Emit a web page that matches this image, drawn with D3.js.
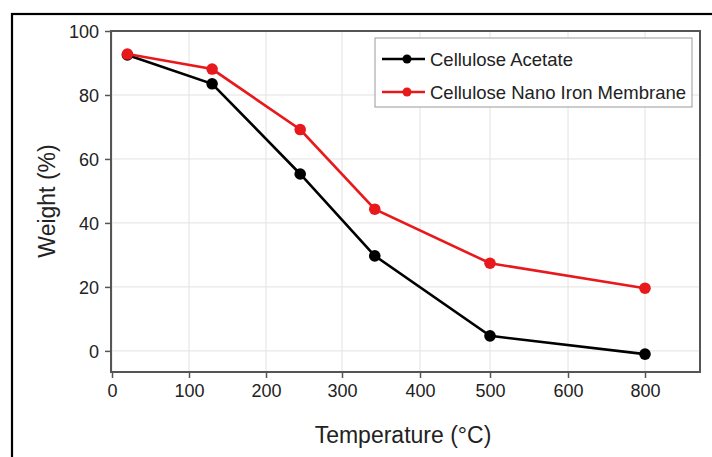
<!DOCTYPE html>
<html>
<head>
<meta charset="utf-8">
<script src="https://cdn.jsdelivr.net/npm/d3@7"></script>
<style>
  body { margin: 0; background: #fff; }
  text { font-family: "Liberation Sans", Arial, sans-serif; fill: #222; }
</style>
</head>
<body>
<svg id="chart"></svg>
<script>
var width = 712, height = 457;

// data
var temps = [20, 130, 245, 342, 500, 800];
var acetate = [92.5, 83.5, 55.3, 29.7, 4.7, -1.0];
var nanoIron = [92.8, 88.1, 69.2, 44.3, 27.4, 19.6];
var seriesNames = ["Cellulose Acetate", "Cellulose Nano Iron Membrane"];
var seriesColors = ["#000000", "#e8191c"];
var xTicks = [0, 100, 200, 300, 400, 500, 600, 800];
var yTicks = [0, 20, 40, 60, 80, 100];

var margin = {top: 31, right: 12, bottom: 85, left: 111};
// the original axis is not evenly spaced (800 sits where 700 would be)
var xTickPx = [1, 78, 155, 231, 309, 379, 457, 534];

var svg = d3.select("#chart").attr("width", width).attr("height", height);

// outer picture frame
svg.append("rect")
    .attr("x", 12).attr("y", 14)
    .attr("width", 720).attr("height", 470)
    .attr("fill", "none")
    .attr("stroke", "#000")
    .attr("stroke-width", 2.2);

var w = width - margin.left - margin.right;
var h = height - margin.top - margin.bottom;

var g = svg.append("g")
    .attr("transform", "translate(" + margin.left + "," + margin.top + ")");

var x = d3.scaleLinear().domain(xTicks).range(xTickPx);
var y = d3.scaleLinear().domain([-6.6, 100]).range([h, 0]);

// grid
g.append("g").selectAll("line").data(xTicks).enter().append("line")
    .attr("x1", d => x(d)).attr("x2", d => x(d))
    .attr("y1", 0).attr("y2", h)
    .attr("stroke", "#e2e2e2").attr("stroke-width", 1);
g.append("g").selectAll("line").data(yTicks).enter().append("line")
    .attr("x1", 0).attr("x2", w)
    .attr("y1", d => y(d)).attr("y2", d => y(d))
    .attr("stroke", "#e2e2e2").attr("stroke-width", 1);

// axes
var xAxis = g.append("g")
    .attr("transform", "translate(0," + h + ")")
    .call(d3.axisBottom(x).tickValues(xTicks).tickSize(6).tickPadding(6).tickFormat(d3.format("d")));
var yAxis = g.append("g")
    .call(d3.axisLeft(y).tickValues(yTicks).tickSize(6).tickPadding(6).tickFormat(d3.format("d")));

[xAxis, yAxis].forEach(function (a) {
    a.select(".domain").remove();
    a.selectAll(".tick line").attr("stroke", "#555").attr("stroke-width", 1.5);
    a.selectAll(".tick text")
        .style("font-family", "'Liberation Sans', Arial, sans-serif")
        .style("font-size", "18px")
        .attr("fill", "#222");
});
yAxis.selectAll(".tick text").attr("dy", "0.36em");

// plot frame
g.append("rect")
    .attr("x", 0).attr("y", 0)
    .attr("width", w).attr("height", h)
    .attr("fill", "none")
    .attr("stroke", "#555")
    .attr("stroke-width", 2);

// series
var series = [acetate, nanoIron];
var line = d3.line().x((d, i) => x(temps[i])).y(d => y(d));

series.forEach(function (vals, k) {
    g.append("path")
        .datum(vals)
        .attr("d", line)
        .attr("fill", "none")
        .attr("stroke", seriesColors[k])
        .attr("stroke-width", 2.6);
    g.append("g").selectAll("circle").data(vals).enter().append("circle")
        .attr("cx", (d, i) => x(temps[i]))
        .attr("cy", d => y(d))
        .attr("r", 5.8)
        .attr("fill", seriesColors[k]);
});

// axis titles
svg.append("text")
    .attr("x", 403)
    .attr("y", 443)
    .attr("text-anchor", "middle")
    .style("font-size", "23px")
    .text("Temperature (\u00B0C)");

svg.append("text")
    .attr("transform", "translate(55,201) rotate(-90)")
    .attr("text-anchor", "middle")
    .style("font-size", "23px")
    .text("Weight (%)");

// legend
var legend = svg.append("g").attr("transform", "translate(375,38)");
legend.append("rect")
    .attr("width", 317).attr("height", 69)
    .attr("fill", "#fff")
    .attr("stroke", "#999")
    .attr("stroke-width", 1);

seriesNames.forEach(function (name, k) {
    var row = legend.append("g").attr("transform", "translate(0," + (21 + k * 33) + ")");
    row.append("line")
        .attr("x1", 7).attr("x2", 50)
        .attr("stroke", seriesColors[k]).attr("stroke-width", 2.6);
    row.append("circle")
        .attr("cx", 32).attr("r", 4.5)
        .attr("fill", seriesColors[k]);
    row.append("text")
        .attr("x", 55).attr("dy", "0.36em")
        .style("font-size", "18.5px")
        .text(name);
});
</script>
</body>
</html>
